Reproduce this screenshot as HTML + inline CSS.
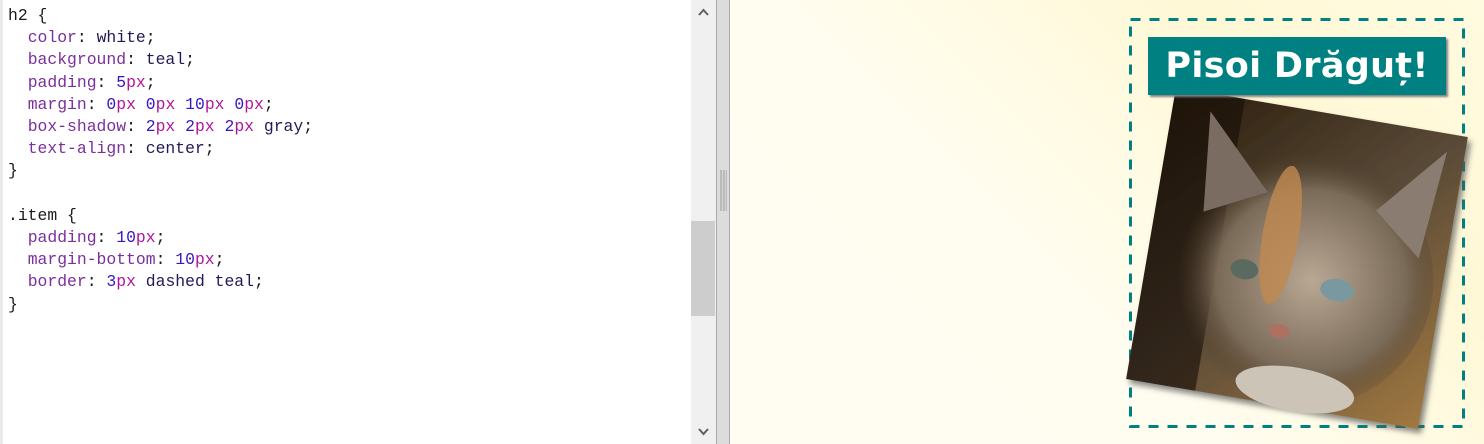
<!DOCTYPE html>
<html><head><meta charset="utf-8"><style>
body{margin:0;width:1484px;height:444px;overflow:hidden;position:relative;background:#fff;font-family:"Liberation Sans",sans-serif}
#editor{position:absolute;left:0;top:0;width:691px;height:444px;background:#fff;border-left:3px solid #eaeaea;box-sizing:border-box}
pre{margin:0;position:absolute;left:5px;top:5px;font-family:"Liberation Mono",monospace;font-size:16.4px;line-height:22.2px;color:#1a1a1a}
.p{color:#7b2f9c}.n{color:#3a14c8}.u{color:#b0149c}.k{color:#221a55}
#vscroll{position:absolute;left:691px;top:0;width:25px;height:444px;background:#f0f0f0}
#thumb{position:absolute;left:0;top:221px;width:24px;height:95px;background:#cdcdcd}
#split{position:absolute;left:716px;top:0;width:14px;height:444px;background:#dcdcdc;border-left:1px solid #aaa;border-right:1px solid #aaa;box-sizing:border-box}
#grip{position:absolute;left:3px;top:170px;width:7px;height:41px;background:repeating-linear-gradient(90deg,#bbb 0 2px,#d4d4d4 2px 3px)}
#preview{position:absolute;left:730px;top:0;width:754px;height:444px;background:linear-gradient(225deg,#fffbe0 0%,#fff8d6 25%,#fffdf0 60%,#fffdf2 100%)}
#title{position:absolute;left:418px;top:37px;width:298px;height:58px;background:#008080;color:#fff;font:bold 35px "DejaVu Sans",sans-serif;text-align:center;line-height:58px;box-shadow:2px 2px 2px gray;letter-spacing:0.3px}
svg{position:absolute;left:0;top:0}
</style></head><body>
<div id="editor">
<pre>h2 {
  <span class="p">color</span>: <span class="k">white</span>;
  <span class="p">background</span>: <span class="k">teal</span>;
  <span class="p">padding</span>: <span class="n">5</span><span class="u">px</span>;
  <span class="p">margin</span>: <span class="n">0</span><span class="u">px</span> <span class="n">0</span><span class="u">px</span> <span class="n">10</span><span class="u">px</span> <span class="n">0</span><span class="u">px</span>;
  <span class="p">box-shadow</span>: <span class="n">2</span><span class="u">px</span> <span class="n">2</span><span class="u">px</span> <span class="n">2</span><span class="u">px</span> <span class="k">gray</span>;
  <span class="p">text-align</span>: <span class="k">center</span>;
}

.item {
  <span class="p">padding</span>: <span class="n">10</span><span class="u">px</span>;
  <span class="p">margin-bottom</span>: <span class="n">10</span><span class="u">px</span>;
  <span class="p">border</span>: <span class="n">3</span><span class="u">px</span> <span class="k">dashed teal</span>;
}</pre>
</div>
<div id="vscroll">
<svg width="25" height="444"><polyline points="8,15 12.5,10 17,15" fill="none" stroke="#606060" stroke-width="2"/><polyline points="8,429 12.5,434 17,429" fill="none" stroke="#606060" stroke-width="2"/></svg>
<div id="thumb"></div>
</div>
<div id="split"><div id="grip"></div></div>
<div id="preview">
<svg width="754" height="444">
<defs>
<linearGradient id="bg" x1="0" y1="0" x2="1" y2="1"><stop offset="0" stop-color="#2a1c0c"/><stop offset="0.5" stop-color="#5a4a38"/><stop offset="1" stop-color="#a07840"/></linearGradient>
<radialGradient id="face" cx="0.55" cy="0.5" r="0.5"><stop offset="0" stop-color="#b8a894"/><stop offset="0.7" stop-color="#7a6a58"/><stop offset="1" stop-color="#4a3a28" stop-opacity="0"/></radialGradient>
<filter id="sh"><feDropShadow dx="4" dy="4" stdDeviation="3" flood-color="#555" flood-opacity="0.7"/></filter>
</defs>
<rect x="400.5" y="19.5" width="333" height="407" fill="none" stroke="#008080" stroke-width="3" stroke-dasharray="10,9"/>
<g transform="translate(567,258) rotate(9.7)">
<rect x="-148" y="-148" width="296" height="296" fill="url(#bg)" filter="url(#sh)"/>
<rect x="-148" y="-148" width="70" height="296" fill="#150e06" opacity="0.6"/>
<ellipse cx="5" cy="20" rx="135" ry="130" fill="url(#face)"/>
<polygon points="-110,-130 -40,-60 -100,-30" fill="#7a6c60"/>
<polygon points="130,-130 70,-60 120,-20" fill="#8a7c70"/>
<ellipse cx="-20" cy="-20" rx="18" ry="70" fill="#c08a50" opacity="0.8"/>
<ellipse cx="-50" cy="20" rx="14" ry="10" fill="#5a6a60"/>
<ellipse cx="45" cy="25" rx="17" ry="11" fill="#7a98a0"/>
<ellipse cx="-5" cy="75" rx="10" ry="7" fill="#b07060"/>
<ellipse cx="20" cy="130" rx="60" ry="22" fill="#cdc4b8"/>
</g>
</svg>
<div id="title">Pisoi Drăguț!</div>
</div>
</body></html>
